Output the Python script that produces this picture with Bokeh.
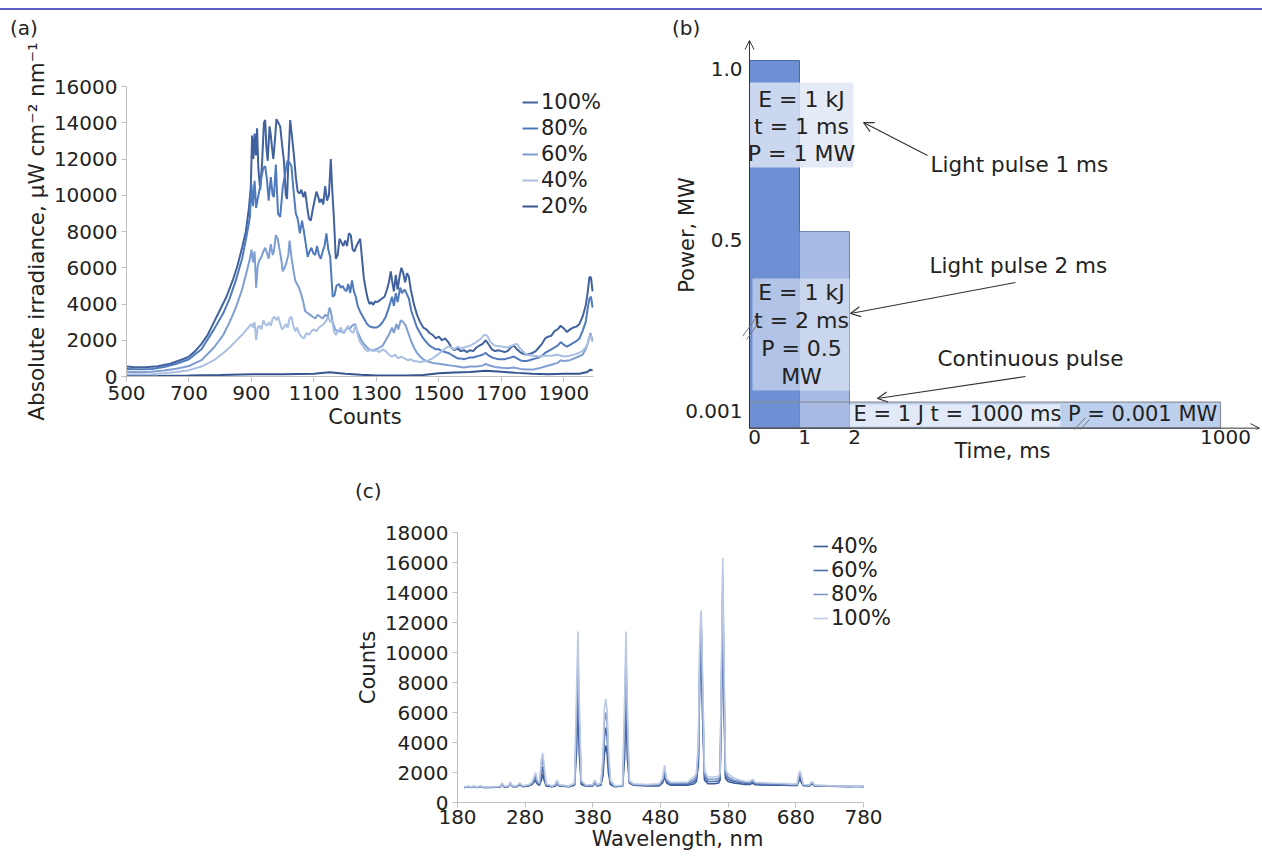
from bokeh.plotting import figure
from bokeh.models import (Range1d, FixedTicker, Legend, LegendItem, Label, Arrow,
                          OpenHead, Div)
from bokeh.layouts import column, row
from bokeh.embed import file_html
from bokeh.resources import INLINE

FONT = "DejaVu Sans"
TXT = "#222222"

# ---------------- Panel (a) data ----------------
a_x100 = [500,520,560,600,640,680,700,720,740,760,780,800,820,840,855,870,882,892,898,902,906,910,914,918,922,928,934,940,944,948,952,958,962,966,970,975,980,986,992,998,1004,1010,1014,1018,1024,1030,1036,1042,1048,1054,1060,1066,1072,1078,1084,1090,1096,1102,1108,1114,1118,1124,1130,1136,1142,1148,1154,1158,1164,1170,1176,1182,1188,1194,1200,1206,1212,1218,1224,1230,1236,1242,1248,1254,1260,1266,1272,1278,1284,1290,1296,1302,1310,1318,1326,1334,1340,1346,1350,1356,1362,1368,1374,1380,1386,1392,1398,1404,1410,1420,1430,1440,1450,1460,1470,1480,1490,1500,1510,1520,1530,1540,1550,1560,1570,1580,1590,1600,1610,1620,1630,1640,1650,1660,1670,1680,1690,1700,1710,1720,1730,1740,1750,1760,1770,1780,1790,1800,1810,1820,1830,1840,1850,1860,1870,1880,1890,1900,1910,1920,1930,1940,1950,1960,1970,1976,1982,1987,1992]
a_y100 = [550,520,510,560,700,950,1100,1400,1800,2300,3000,3700,4400,5300,6100,7100,8000,9300,10500,13300,12000,13400,12200,13700,11500,10300,11800,14000,14150,12600,11900,13800,13300,12600,12000,13000,14200,14000,13800,12800,11900,10000,9800,11800,14150,13200,12200,11000,10200,10100,10300,9900,10200,9400,8700,8600,9200,9700,10200,9900,9600,9800,9500,10500,9700,10000,12000,10500,8700,6500,6700,7600,7400,7200,7500,7200,7900,7800,7000,6900,7200,7400,7600,6500,5400,4800,4300,4000,4100,3950,4150,4100,4200,4300,4400,4800,5200,5800,5300,4700,5600,4800,5500,6000,5700,5200,5700,5500,4800,4000,3400,3000,2700,2600,2400,2300,2100,2200,2000,2100,1900,1600,1450,1550,1400,1450,1350,1450,1400,1600,1700,1800,2000,1750,1500,1400,1450,1400,1350,1400,1600,1700,1500,1350,1250,1200,1250,1300,1400,1600,1800,2100,2200,2250,2500,2600,2800,2650,2450,2600,2700,2750,2900,3300,3900,4600,5500,5450,4700]

a_x80 = [500,540,580,620,660,700,740,780,810,830,850,870,885,895,900,905,910,915,920,926,932,938,944,950,955,962,968,972,978,985,992,1000,1008,1015,1022,1028,1035,1042,1048,1055,1062,1068,1074,1080,1086,1092,1098,1104,1110,1116,1122,1128,1134,1140,1146,1152,1156,1160,1166,1172,1180,1186,1192,1198,1204,1210,1216,1222,1228,1234,1240,1250,1260,1270,1280,1290,1300,1310,1320,1330,1340,1350,1356,1362,1368,1376,1382,1390,1396,1404,1412,1420,1430,1440,1450,1460,1470,1480,1490,1500,1510,1520,1530,1540,1550,1560,1570,1580,1590,1600,1610,1620,1630,1640,1650,1660,1670,1680,1690,1700,1710,1720,1730,1740,1750,1760,1770,1780,1790,1800,1810,1820,1830,1840,1850,1860,1870,1880,1890,1900,1910,1920,1930,1940,1950,1960,1970,1976,1982,1987,1992]
a_y80 = [420,400,420,520,700,950,1500,2600,3500,4300,5300,6500,7800,8800,10600,9400,10800,9300,9800,10300,11000,11500,11600,10800,9700,11000,10000,9900,11700,9000,8800,10400,11200,11900,11800,11600,10200,9000,8700,7900,8600,8000,7300,6600,6900,7100,6800,6700,7200,6700,6500,6900,7200,7900,7000,6600,5500,4400,4500,5000,5100,4900,5000,4800,4700,5100,4600,5300,4700,4400,3900,3500,3200,2900,2750,2700,2700,2800,3000,3300,3800,4400,3900,4600,4100,4900,4600,4800,4600,4300,3600,3200,2700,2400,2100,1900,1700,1600,1500,1500,1400,1350,1300,1200,1100,1000,1000,950,1000,1050,1050,1100,1150,1200,1300,1150,1050,1000,950,950,950,1000,1050,1100,1000,900,850,850,900,950,1000,1050,1150,1300,1400,1500,1600,1700,1900,1750,1650,1750,1850,1950,2100,2500,3000,3700,4300,4400,3800]

a_x60 = [500,540,580,620,660,700,740,780,810,830,850,870,885,895,900,905,910,915,920,925,932,938,944,950,955,962,968,972,978,984,990,996,1000,1006,1012,1018,1022,1028,1034,1040,1046,1052,1060,1066,1072,1080,1088,1096,1104,1112,1120,1128,1136,1144,1150,1154,1160,1168,1176,1186,1196,1206,1214,1222,1230,1236,1244,1252,1260,1270,1280,1290,1300,1310,1320,1330,1340,1350,1356,1364,1370,1378,1386,1394,1402,1410,1420,1430,1440,1450,1460,1470,1480,1500,1520,1540,1560,1580,1600,1620,1640,1650,1660,1680,1700,1720,1740,1760,1780,1800,1820,1840,1860,1880,1890,1900,1920,1940,1960,1970,1978,1985,1992]
a_y60 = [260,240,260,330,430,580,900,1600,2300,3000,3800,4800,5800,6500,7000,6300,6900,4900,6100,6400,6600,6900,7100,6800,6500,7300,6700,6900,7800,7600,7000,6400,5800,6000,6300,6700,7500,6600,5900,5300,5100,4900,4500,4100,3600,3500,3400,3300,3200,3400,3300,3200,3400,3300,3800,3600,3000,2600,2500,2500,2400,2700,2600,2800,2900,2600,2300,2000,1800,1600,1450,1450,1500,1600,1700,2000,2300,2700,2400,2900,2600,3100,3000,2800,2400,2000,1600,1300,1100,950,850,800,750,700,650,600,550,500,550,550,600,700,620,520,480,450,500,420,380,380,450,550,650,750,900,850,900,1050,1200,1500,1900,2400,2000]

a_x40 = [500,540,580,620,660,700,740,780,810,830,850,870,885,895,900,905,910,915,920,926,932,938,944,950,956,962,968,974,980,986,992,998,1004,1010,1016,1022,1028,1034,1040,1046,1052,1060,1068,1076,1084,1092,1100,1108,1116,1124,1132,1140,1146,1152,1158,1164,1170,1178,1186,1194,1202,1210,1218,1226,1234,1240,1248,1256,1264,1272,1282,1290,1300,1310,1320,1330,1340,1350,1360,1370,1380,1390,1400,1410,1420,1440,1460,1480,1500,1520,1530,1540,1550,1560,1570,1580,1600,1620,1635,1645,1655,1665,1680,1700,1720,1740,1750,1760,1780,1800,1820,1840,1860,1880,1900,1920,1940,1960,1970,1978,1985,1992]
a_y40 = [120,110,130,180,250,350,550,900,1300,1600,1950,2300,2600,2800,2900,2700,3000,2000,2700,2800,2600,3100,2900,2800,3000,2800,3200,3300,3100,3300,2900,2600,2700,2900,2700,3200,3300,2800,2500,2700,2400,2200,2100,2400,2300,2500,2600,2500,2700,2800,2900,3100,3300,3000,3100,2500,2300,2500,2700,2400,2600,2800,2500,2400,2900,2300,1900,1700,1500,1400,1500,1400,1450,1350,1500,1400,1200,1100,1200,1000,1100,1000,900,950,850,800,850,1000,1250,1550,1650,1600,1500,1650,1550,1600,1700,1900,2100,2300,2250,1900,1700,1650,1600,1750,1800,1550,1200,1150,1100,1150,1150,1200,1100,1150,1250,1400,1600,1900,2300,1900]

a_x20 = [500,600,700,800,900,1000,1100,1150,1200,1250,1300,1400,1450,1500,1550,1600,1650,1700,1750,1800,1850,1900,1950,1975,1985,1992]
a_y20 = [20,30,50,80,120,130,150,230,150,100,60,60,80,180,220,250,320,260,200,150,130,150,150,250,380,330]

a_names = ["100%", "80%", "60%", "40%", "20%"]
a_colors = ["#41629f", "#4f7bbd", "#7f9fd2", "#aabfe2", "#34558f"]
a_xticks = [500, 700, 900, 1100, 1300, 1500, 1700, 1900]
a_yticks = [0, 2000, 4000, 6000, 8000, 10000, 12000, 14000, 16000]

# ---------------- Panel (b) data ----------------
b_power = [1.0, 0.5, 0.001]          # MW
b_duration = [1, 2, 1000]            # ms
b_energy = ["1 kJ", "1 kJ", "1 J"]
b_power_txt = ["1 MW", "0.5 MW", "0.001 MW"]
b_names = ["Light pulse 1 ms", "Light pulse 2 ms", "Continuous pulse"]
b_xtick_vals = [0, 1, 2, 1000]
b_ytick_vals = [1.0, 0.5, 0.001]
b_ytick_txt = ["1.0", "0.5", "0.001"]

# ---------------- Panel (c) data ----------------
c_wl = [190,196,200,204,208,214,218,230,243,246,249,255,258,261,268,272,276,285,290,293,295.5,298,301,304,306,308,311,320,325,327,330,345,353,356,358,360,363,370,380,383,386,392,395,397,399,401,403,406,412,424,427,429,431,434,440,460,478,483,486,489,495,510,520,530,533,536,538,540,542,545,550,560,566,568,570,572,574,576,580,588,597,605,612,616,620,640,663,670,682,684,686,688,691,700,704,708,730,760,772,780]
c_40 = [1000,1050,1000,1060,1000,1060,1000,1010,1030,1200,1040,1050,1250,1060,1060,1200,1060,1100,1200,1350,1450,1250,1150,1500,1900,1500,1100,1050,1100,1350,1100,1050,1150,3500,6800,3200,1200,1080,1100,1350,1100,1150,1800,3200,3800,3300,2000,1200,1050,1080,3000,7400,3000,1300,1150,1100,1100,1300,1700,1300,1150,1150,1150,1250,1400,2500,8000,11800,6000,1500,1250,1250,1300,1500,6000,12500,6000,1600,1400,1300,1250,1200,1200,1300,1180,1150,1150,1130,1130,1350,1600,1350,1120,1100,1250,1100,1080,1060,1080,1050]
c_60 = [1010,1060,1010,1070,1010,1070,1010,1020,1040,1230,1050,1060,1290,1070,1080,1240,1080,1120,1240,1450,1600,1330,1200,1900,2400,1800,1150,1060,1150,1400,1120,1070,1200,4500,8300,4200,1300,1100,1150,1400,1120,1200,2200,4200,5000,4400,2600,1300,1080,1100,4000,8700,4000,1350,1180,1130,1150,1400,1950,1400,1200,1200,1220,1400,1550,3000,9000,12300,7000,1700,1400,1400,1450,1650,7000,14000,7000,1800,1550,1400,1330,1280,1260,1380,1240,1200,1200,1170,1170,1500,1800,1500,1150,1130,1300,1120,1100,1070,1090,1060]
c_80 = [1020,1070,1020,1080,1020,1090,1030,1030,1060,1260,1070,1080,1320,1090,1100,1270,1100,1150,1300,1550,1800,1420,1260,2500,2900,2200,1200,1080,1200,1450,1150,1090,1250,6000,9900,5500,1400,1120,1180,1450,1150,1250,2700,5300,6000,5400,3200,1400,1100,1120,5500,10100,5200,1400,1200,1160,1200,1500,2200,1500,1280,1280,1290,1550,1750,3500,10000,12600,8000,1900,1550,1550,1600,1800,8000,15200,8000,2000,1700,1500,1420,1350,1330,1450,1300,1250,1230,1200,1200,1700,1950,1650,1180,1160,1350,1140,1110,1080,1100,1070]
c_100 = [1030,1080,1030,1100,1030,1100,1040,1050,1080,1300,1090,1100,1350,1110,1120,1300,1120,1180,1350,1700,2000,1500,1300,2900,3300,2500,1250,1100,1250,1500,1180,1100,1300,7500,11400,6800,1450,1150,1200,1500,1180,1300,3200,6200,6900,6200,3700,1500,1120,1150,7000,11400,6500,1450,1250,1200,1250,1600,2500,1600,1350,1350,1360,1750,1900,4000,10800,12800,9000,2100,1700,1700,1750,2000,9000,16300,9000,2200,1900,1650,1500,1420,1400,1550,1350,1300,1270,1240,1230,1850,2100,1800,1200,1180,1400,1160,1120,1090,1110,1080]
c_names = ["40%", "60%", "80%", "100%"]
c_colors = ["#3b5a98", "#4b6fae", "#7f97c6", "#bcc9e4"]
c_xticks = [180, 280, 380, 480, 580, 680, 780]
c_yticks = [0, 2000, 4000, 6000, 8000, 10000, 12000, 14000, 16000, 18000]


def style_axes(p, fs="20px", afs="21px"):
    for ax in p.axis:
        ax.axis_line_color = "#bfbfbf"
        ax.major_tick_line_color = "#bfbfbf"
        ax.minor_tick_line_color = None
        ax.major_tick_in = 0
        ax.major_tick_out = 5
        ax.major_label_text_font = FONT
        ax.major_label_text_font_size = fs
        ax.major_label_text_color = TXT
        ax.axis_label_text_font = FONT
        ax.axis_label_text_font_size = afs
        ax.axis_label_text_font_style = "normal"
        ax.axis_label_text_color = TXT
        ax.major_label_standoff = 4
        ax.axis_label_standoff = 2
    p.grid.visible = False
    p.outline_line_color = None
    p.background_fill_color = None
    p.border_fill_color = None


def make_legend(items, loc, h, gw):
    return Legend(items=items, location=loc, background_fill_alpha=0,
                  border_line_color=None, padding=0, margin=0, spacing=0,
                  glyph_width=gw, glyph_height=h, label_height=h, label_standoff=3,
                  label_text_font=FONT, label_text_font_size="21px",
                  label_text_color=TXT)


def tag(text, w, h, left, top):
    html = ('<div style="position:relative; left:%dpx; top:%dpx; font-family:\'DejaVu Sans\';'
            ' font-size:20px; line-height:20px; color:#222222; white-space:nowrap">%s</div>'
            % (left, top, text))
    return Div(text=html, width=w, height=h, margin=(0, 0, 0, 0))


# ================= Panel (a) =================
A_W, A_H = 640, 430
A_L, A_T = 126, 46
A_FR = 603
A_FB = 376 - 40
A_B = A_H - A_FB
A_R = A_W - A_FR
ux_a = 1495 / (593 - 126)
pa = figure(width=A_W, height=A_H,
            x_range=Range1d(500, 1995 + (A_FR - 593) * ux_a), y_range=Range1d(0, 16000),
            output_backend="svg", toolbar_location=None,
            min_border_left=A_L, min_border_right=A_R, min_border_top=A_T, min_border_bottom=A_B)
a_series = [(a_x100, a_y100), (a_x80, a_y80), (a_x60, a_y60), (a_x40, a_y40), (a_x20, a_y20)]
a_items = []
for (xs, ys), nm, col in zip(a_series, a_names, a_colors):
    r = pa.line(xs, ys, line_color=col, line_width=2)
    a_items.append(LegendItem(label=nm, renderers=[r]))
pa.xaxis.ticker = FixedTicker(ticks=a_xticks)
pa.yaxis.ticker = FixedTicker(ticks=a_yticks)
pa.xaxis.bounds = (500, 1995)
pa.xaxis.axis_label = "Counts"
pa.yaxis.axis_label = "Absolute irradiance, μW cm⁻² nm⁻¹"
style_axes(pa)
pa.yaxis.axis_label_text_font_size = "21.5px"
pa.add_layout(make_legend(a_items, (396, 157), 26, 16))

# ================= Panel (b) =================
B_W, B_H = 622, 430
B_L, B_R, B_T = 102, 0, 0
B_FB = 429 - 40
B_B = B_H - B_FB
PX_X = 50.0
PX_Y = 342.0
y_base = -0.075

def ypx(py):
    return 1.0 - (py - 60) / PX_Y

def xpx(px):
    return (px - 749) / PX_X

pb = figure(width=B_W, height=B_H, x_range=Range1d(xpx(742), xpx(1262)),
            y_range=Range1d(ypx(429), ypx(40)),
            output_backend="svg", toolbar_location=None,
            min_border_left=B_L, min_border_right=B_R, min_border_top=B_T, min_border_bottom=B_B)

x_pos = {0: 0.0, 1: 1.0, 2: 2.0, 1000: 9.42}

pb.quad(left=[0], right=[x_pos[b_duration[2]]], bottom=[y_base], top=[b_power[2]],
        fill_color="#bccfec", line_color=None)
pb.quad(left=[0], right=[x_pos[b_duration[0]]], bottom=[y_base], top=[b_power[0]],
        fill_color="#6d90d4", line_color="#4d6aa8", line_width=1)
pb.quad(left=[x_pos[b_duration[0]]], right=[x_pos[b_duration[1]]], bottom=[y_base], top=[b_power[1]],
        fill_color="#a7bbe4", line_color="#7186b4", line_width=1)
pb.quad(left=[0], right=[x_pos[b_duration[2]]], bottom=[y_base], top=[b_power[2]],
        fill_color=None, line_color="#8a8f99", line_width=1.2)

pb.quad(left=[xpx(749)], right=[xpx(853)], bottom=[ypx(167)], top=[ypx(82)],
        fill_color="#dfe7f4", fill_alpha=0.82, line_color=None)
pb.quad(left=[xpx(752)], right=[xpx(849)], bottom=[ypx(390)], top=[ypx(278)],
        fill_color="#dfe7f4", fill_alpha=0.6, line_color=None)
pb.quad(left=[xpx(849)], right=[xpx(1060)], bottom=[ypx(426)], top=[ypx(404)],
        fill_color="#eef3fa", fill_alpha=0.75, line_color=None)

def blabel(x, y, text, align="center", size="22px"):
    pb.add_layout(Label(x=x, y=y, text=text, text_font=FONT, text_font_size=size,
                        text_color=TXT, text_align=align, text_baseline="middle"))

box1 = ["E = " + b_energy[0], "t = %d ms" % b_duration[0], "P = " + b_power_txt[0]]
for txt, py in zip(box1, [99, 126, 153]):
    blabel(xpx(801), ypx(py), txt)
box2 = ["E = " + b_energy[1], "t = %d ms" % b_duration[1], "P = 0.5", "MW"]
for txt, py in zip(box2, [292, 320, 348, 376]):
    blabel(xpx(801), ypx(py), txt)
blabel(xpx(853), ypx(413), "E = %s t = %d ms  P = %s" % (b_energy[2], b_duration[2], b_power_txt[2]),
       align="left", size="21px")

for nm, (tx, ty) in zip(b_names, [(930, 164), (929, 265), (937, 358)]):
    blabel(xpx(tx), ypx(ty), nm, align="left", size="21.5px")
for (sx, sy, ex, ey) in [(927, 155, 863, 122), (1015, 282, 850, 313), (1025, 376, 877, 398)]:
    pb.add_layout(Arrow(end=OpenHead(size=10, line_color="#333333", line_width=1.2),
                        x_start=xpx(sx), y_start=ypx(sy), x_end=xpx(ex), y_end=ypx(ey),
                        line_color="#333333", line_width=1.2))

pb.add_layout(Arrow(end=OpenHead(size=9, line_color="#333333", line_width=1),
                    x_start=0, y_start=y_base, x_end=0, y_end=ypx(40),
                    line_color="#333333", line_width=1))
pb.add_layout(Arrow(end=OpenHead(size=9, line_color="#333333", line_width=1),
                    x_start=0, y_start=y_base, x_end=xpx(1259), y_end=y_base,
                    line_color="#333333", line_width=1))
for (sx, sy, ex, ey) in [(742, 336, 755, 318), (746, 339, 759, 321),
                         (1073, 430, 1085, 417), (1077, 432, 1089, 419)]:
    pb.add_layout(Arrow(end=None, x_start=xpx(sx), y_start=ypx(sy), x_end=xpx(ex), y_end=ypx(ey),
                        line_color="#777777", line_width=1))

shift_x = 0.1
shift_y = -0.026
xt = [x_pos[v] + shift_x for v in b_xtick_vals]
pb.xaxis.ticker = FixedTicker(ticks=xt)
pb.xaxis.major_label_overrides = {t: str(v) for t, v in zip(xt, b_xtick_vals)}
yt = [v + shift_y for v in b_ytick_vals]
pb.yaxis.ticker = FixedTicker(ticks=yt)
pb.yaxis.major_label_overrides = {t: s for t, s in zip(yt, b_ytick_txt)}
pb.xaxis.axis_label = "Time, ms"
pb.yaxis.axis_label = "Power, MW"
style_axes(pb)
for ax in pb.axis:
    ax.axis_line_color = None
    ax.major_tick_line_color = None
    ax.major_tick_out = 0
    ax.major_label_standoff = 0
pb.xaxis.axis_label_standoff = -8
pb.yaxis.axis_label_standoff = -17

# ================= Panel (c) =================
C_W, C_H = 920, 354
C_L, C_T = 457, 27
C_FR = 897
C_R = C_W - C_FR
C_B = C_H - (802 - 505)
ux_c = 600 / (863 - 457)
pc = figure(width=C_W, height=C_H,
            x_range=Range1d(180, 780 + (C_FR - 863) * ux_c), y_range=Range1d(0, 18000),
            output_backend="svg", toolbar_location=None,
            min_border_left=C_L, min_border_right=C_R, min_border_top=C_T, min_border_bottom=C_B)
c_items = []
for ys, nm, col in zip([c_40, c_60, c_80, c_100], c_names, c_colors):
    r = pc.line(c_wl, ys, line_color=col, line_width=1.6)
    c_items.append(LegendItem(label=nm, renderers=[r]))
pc.xaxis.ticker = FixedTicker(ticks=c_xticks)
pc.yaxis.ticker = FixedTicker(ticks=c_yticks)
pc.xaxis.bounds = (180, 780)
pc.xaxis.axis_label = "Wavelength, nm"
pc.yaxis.axis_label = "Counts"
style_axes(pc)
pc.xaxis.major_label_standoff = 2
pc.xaxis.axis_label_standoff = 0
pc.add_layout(make_legend(c_items, (356, 172), 24, 15))

header = Div(text="", width=1262, height=10, margin=(0, 0, 0, 0),
             styles={"border-bottom": "2px solid #5a5ec8", "box-sizing": "border-box"})
col_a = column(tag("(a)", A_W, 30, 10, 8), pa)
col_b = column(tag("(b)", B_W, 30, 32, 8), pb)
col_c = column(tag("(c)", C_W, 35, 355, 11), pc)
layout = column(header, row(col_a, col_b), col_c)

open("out.html", "w").write(file_html(layout, INLINE))
